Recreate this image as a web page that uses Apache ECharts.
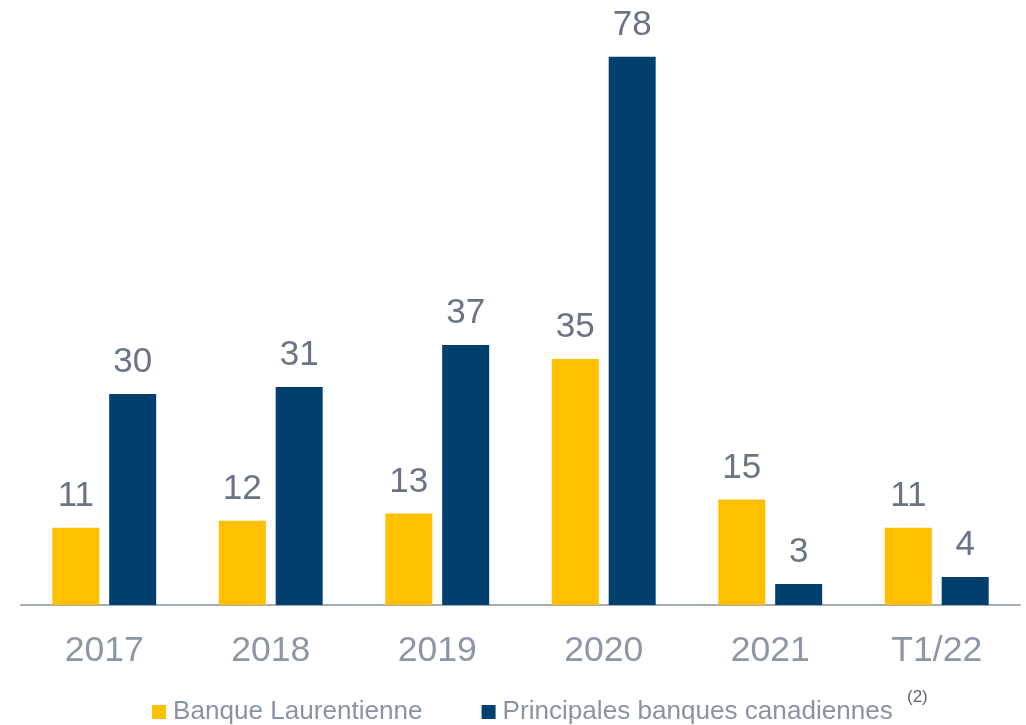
<!DOCTYPE html>
<html>
<head>
<meta charset="utf-8">
<script src="https://cdn.jsdelivr.net/npm/echarts@6/dist/echarts.min.js"></script>
<style>
html,body{margin:0;padding:0;background:#fff;}
#chart{width:1026px;height:725px;}
</style>
</head>
<body>
<div id="chart"></div>
<script>
var categories = ['2017', '2018', '2019', '2020', '2021', 'T1/22'];
var seriesNames = ['Banque Laurentienne', 'Principales banques canadiennes'];
var laurentienne = [11, 12, 13, 35, 15, 11];
var principales = [30, 31, 37, 78, 3, 4];

var chart = echarts.init(document.getElementById('chart'));
chart.setOption({
  animation: false,
  grid: { left: 21, right: 6, top: 42.6, bottom: 120 },
  xAxis: {
    type: 'category',
    data: categories,
    axisLine: { lineStyle: { color: '#A3ABB8', width: 2 } },
    axisTick: { show: false },
    axisLabel: { color: '#8E96A6', fontSize: 35.5, fontFamily: 'Liberation Sans', margin: 28 }
  },
  yAxis: { type: 'value', min: 0, max: 80, show: false, splitLine: { show: false } },
  legend: {
    left: 152,
    top: 699,
    padding: 0,
    itemWidth: 14,
    itemHeight: 14,
    itemGap: 59,
    icon: 'rect',
    textStyle: { color: '#8A93A3', fontSize: 26.1, fontFamily: 'Liberation Sans', padding: [3, 0, 0, 2] },
    data: seriesNames
  },
  graphic: [{
    type: 'text',
    left: 907,
    top: 689,
    style: { text: '(2)', fill: '#5E6472', font: '17px "Liberation Sans"' }
  }],
  series: [
    {
      name: seriesNames[0],
      type: 'bar',
      data: laurentienne,
      barWidth: 47,
      barGap: '21%',
      itemStyle: { color: '#FFC000' },
      label: { show: true, position: 'top', distance: 14, color: '#6B7385', fontSize: 35, fontFamily: 'Liberation Sans' }
    },
    {
      name: seriesNames[1],
      type: 'bar',
      data: principales,
      barWidth: 47,
      itemStyle: { color: '#003F6E' },
      label: { show: true, position: 'top', distance: 14, color: '#6B7385', fontSize: 35, fontFamily: 'Liberation Sans' }
    }
  ]
});
</script>
</body>
</html>
